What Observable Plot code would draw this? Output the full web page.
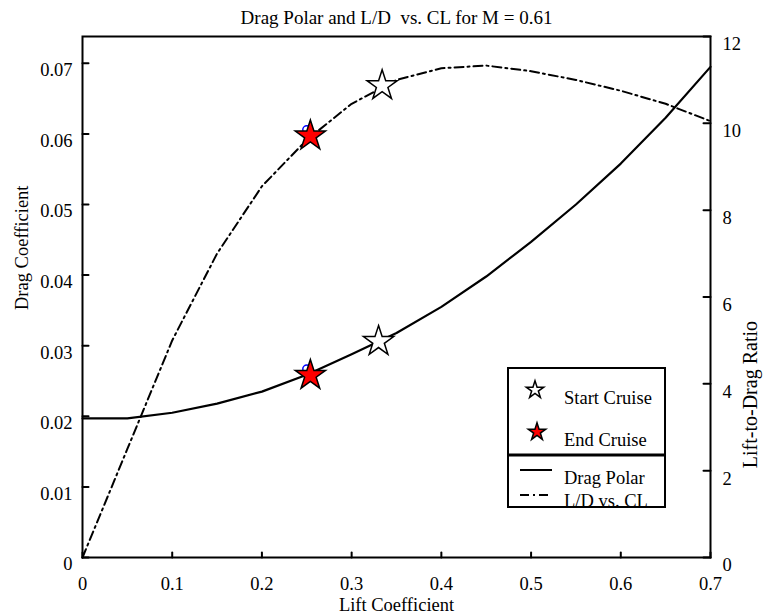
<!DOCTYPE html>
<html><head><meta charset="utf-8">
<script src="https://cdn.jsdelivr.net/npm/d3@7"></script>
<script src="https://cdn.jsdelivr.net/npm/@observablehq/plot@0.6"></script>
<style>
body{margin:0;background:#fff;}
#wrap{position:relative;width:764px;height:614px;font-family:"Liberation Serif","Times New Roman",serif;}
#legend{position:absolute;left:507px;top:367px;overflow:visible;}
</style></head><body><div id="wrap"></div>
<script>
// ---- data ----
const liftCoef = [0, 0.05, 0.1, 0.15, 0.2, 0.25, 0.3, 0.35, 0.4, 0.45, 0.5, 0.55, 0.6, 0.65, 0.7];
const dragCoef = [0.0197, 0.0197, 0.0205, 0.0218, 0.0235, 0.0259, 0.0288, 0.0318, 0.0355, 0.0398, 0.0447, 0.0500, 0.0558, 0.0623, 0.0695];
const liftToDrag = [0, 2.5, 5.0, 7.0, 8.55, 9.62, 10.45, 11.0, 11.27, 11.33, 11.2, 11.0, 10.75, 10.45, 10.05];

const cruiseNames = ["Start Cruise", "End Cruise"];
const cruisePolarCL = [0.330, 0.254];
const cruisePolarCD = [0.0306, 0.0258];
const cruiseRatioCL = [0.334, 0.254];
const cruiseRatioLD = [10.87, 9.71];

const markerCL = [0.250, 0.250];
const markerCD = [0.0267];
const markerLD = [9.85];

const xTicks = [0, 0.1, 0.2, 0.3, 0.4, 0.5, 0.6, 0.7];
const cdTicks = [0, 0.01, 0.02, 0.03, 0.04, 0.05, 0.06, 0.07];
const ldTicks = [0, 2, 4, 6, 8, 10, 12];

const titleText = "Drag Polar and L/D\u00a0 vs. CL for M = 0.61";
const xLabel = "Lift Coefficient";
const yLabelLeft = "Drag Coefficient";
const yLabelRight = "Lift-to-Drag Ratio";
const legendLabels = ["Start Cruise", "End Cruise", "Drag Polar", "L/D vs. CL"];

// ---- build ----
const cdMax = 0.0738, ldMax = 12;
const k = cdMax / ldMax; // map right axis onto left scale

const polar = liftCoef.map((cl, i) => ({cl, cd: dragCoef[i]}));
const ratio = liftCoef.map((cl, i) => ({cl, ld: liftToDrag[i]}));
const starsPolar = cruiseNames.map((n, i) => ({n, cl: cruisePolarCL[i], cd: cruisePolarCD[i]}));
const starsRatio = cruiseNames.map((n, i) => ({n, cl: cruiseRatioCL[i], ld: cruiseRatioLD[i]}));
const markers = [{cl: markerCL[0], v: markerCD[0]}, {cl: markerCL[1], v: markerLD[0] * k}];
const ldTicksScaled = ldTicks.map(v => v * k);

const FONT = "Liberation Serif";
const FS = 18.5;
const dash = "9,4,2,4";
const tickShape = {draw(ctx, l) { ctx.moveTo(0, 0); ctx.lineTo(0, -l); }};

const chart = Plot.plot({
  width: 764, height: 614,
  marginLeft: 82, marginRight: 54, marginTop: 36, marginBottom: 57,
  style: {fontFamily: FONT, fontSize: FS + "px", background: "white", color: "black"},
  x: {domain: [0, 0.7]},
  y: {domain: [0, cdMax]},
  marks: [
    Plot.line(ratio, {x: "cl", y: d => d.ld * k, stroke: "black", strokeWidth: 2, strokeDasharray: dash}),
    Plot.line(polar, {x: "cl", y: "cd", stroke: "black", strokeWidth: 2.2}),
    Plot.dot(markers, {x: "cl", y: "v", r: 4, stroke: "blue", strokeWidth: 1.5, fill: "none"}),
    Plot.dot(starsPolar.filter(d => d.n === "Start Cruise"), {x: "cl", y: "cd", symbol: "star", r: 9.5, fill: "white", stroke: "black", strokeWidth: 1.5}),
    Plot.dot(starsRatio.filter(d => d.n === "Start Cruise"), {x: "cl", y: d => d.ld * k, symbol: "star", r: 9.5, fill: "white", stroke: "black", strokeWidth: 1.5}),
    Plot.dot(starsPolar.filter(d => d.n === "End Cruise"), {x: "cl", y: "cd", symbol: "star", r: 9.5, fill: "red", stroke: "black", strokeWidth: 1.5}),
    Plot.dot(starsRatio.filter(d => d.n === "End Cruise"), {x: "cl", y: d => d.ld * k, symbol: "star", r: 9.5, fill: "red", stroke: "black", strokeWidth: 1.5}),
    // inward tick marks
    Plot.vector(xTicks, {x: d => d, frameAnchor: "bottom", rotate: 0, length: 5, anchor: "start", shape: tickShape, stroke: "black", strokeWidth: 2}),
    Plot.vector(cdTicks, {y: d => d, frameAnchor: "left", rotate: 90, length: 6, anchor: "start", shape: tickShape, stroke: "black", strokeWidth: 2}),
    Plot.vector(ldTicksScaled, {y: d => d, frameAnchor: "right", rotate: -90, length: 7, anchor: "start", shape: tickShape, stroke: "black", strokeWidth: 2}),
    // tick labels
    Plot.axisX({ticks: xTicks, tickSize: 0, tickPadding: 19, label: null, tickFormat: d => d === 0 ? "0" : String(d), fontSize: FS}),
    Plot.axisY({anchor: "left", ticks: cdTicks, tickSize: 0, tickPadding: 10, dy: 7, label: null, tickFormat: d => d === 0 ? "0" : String(d), fontSize: FS}),
    Plot.axisY({anchor: "right", ticks: ldTicksScaled, tickSize: 0, tickPadding: 12, dy: 8, label: null, tickFormat: d => String(Math.round(d / k)), fontSize: FS}),
    Plot.frame({stroke: "black", strokeWidth: 2}),
    // titles
    Plot.text([titleText], {frameAnchor: "top", dy: -19, text: d => d, fontSize: 19, lineAnchor: "middle"}),
    Plot.text([xLabel], {frameAnchor: "bottom", dy: 48, text: d => d, fontSize: FS, lineAnchor: "middle"}),
    Plot.text([yLabelLeft], {frameAnchor: "left", dx: -60, dy: 13, rotate: -90, text: d => d, fontSize: FS, lineAnchor: "middle"}),
    Plot.text([yLabelRight], {frameAnchor: "right", dx: 40, dy: 24, rotate: -90, text: d => d, fontSize: 20, lineAnchor: "middle"})
  ]
});
const wrap = document.getElementById("wrap");
wrap.appendChild(chart);

// ---- legend overlay ----
const lg = d3.select(wrap).append("svg").attr("id", "legend")
  .attr("width", 159).attr("height", 142)
  .style("font-family", FONT).style("font-size", FS + "px");
lg.append("rect").attr("x", 1).attr("y", 1).attr("width", 157).attr("height", 139)
  .attr("fill", "white").attr("stroke", "black").attr("stroke-width", 2);
lg.append("line").attr("x1", 1).attr("x2", 158).attr("y1", 88).attr("y2", 88)
  .attr("stroke", "black").attr("stroke-width", 3);
const starPath = d3.symbol(d3.symbolStar, 95)();
lg.append("path").attr("d", starPath).attr("transform", "translate(28,23)")
  .attr("fill", "white").attr("stroke", "black").attr("stroke-width", 1.5);
lg.append("path").attr("d", starPath).attr("transform", "translate(30,65)")
  .attr("fill", "red").attr("stroke", "black").attr("stroke-width", 1.5);
lg.append("line").attr("x1", 13).attr("x2", 45).attr("y1", 103).attr("y2", 103)
  .attr("stroke", "black").attr("stroke-width", 2);
lg.append("line").attr("x1", 13).attr("x2", 45).attr("y1", 128).attr("y2", 128)
  .attr("stroke", "black").attr("stroke-width", 2).attr("stroke-dasharray", dash);
const ys = [37, 79, 117, 140];
legendLabels.forEach((t, i) => {
  lg.append("text").attr("x", 57).attr("y", ys[i]).text(t);
});
</script></body></html>
